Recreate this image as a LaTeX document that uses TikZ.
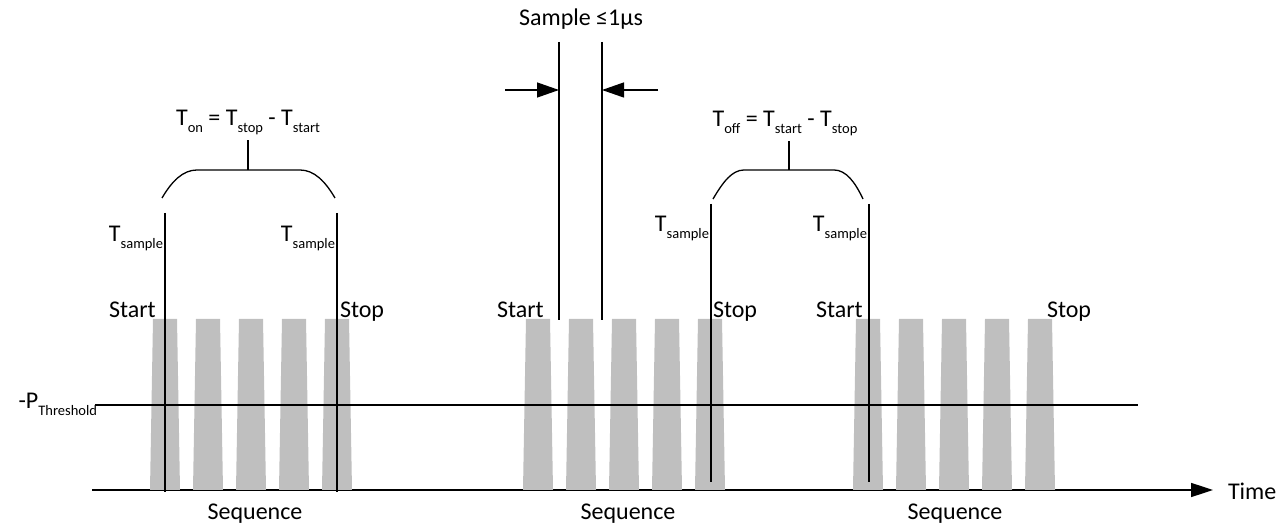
\documentclass[tikz,border=0pt]{standalone}
\usepackage{fontspec}
\setmainfont{Carlito}
\usetikzlibrary{arrows.meta}
\newcommand{\mysub}[1]{\raisebox{-0.28em}{\fontsize{14.5}{15}\selectfont #1}}
\begin{document}
\begin{tikzpicture}[x=1pt,y=-1pt,
  lbl/.style={inner sep=0pt,outer sep=0pt,font=\fontsize{24}{28}\selectfont},
  pulse/.style={fill=black!25},
  vline/.style={line width=1.6pt},
  hline/.style={line width=1.4pt},
  brace/.style={line width=1.3pt},
  head/.style={-{Triangle[length=22pt,width=15pt]},line width=1.3pt}]
\useasboundingbox (0,0) rectangle (1286,526);
% axis
\coordinate (ax0) at (92,490);
\coordinate (ax1) at (1213,490);
\draw[line width=1.6pt,-{Triangle[length=22pt,width=14pt]}] (ax0) -- (ax1);
\node[lbl,anchor=base west] (time) at (1228,500) {Time};
% pulses
\foreach \c in {165,208,251,294,337,538,581,624,667,710,868,911,954,997,1040}{
  \fill[pulse] (\c-15,490) -- (\c-12,319) -- (\c+12,319) -- (\c+15,490) -- cycle;
}
% threshold
\coordinate (th0) at (95,405);
\coordinate (th1) at (1138,405);
\draw[hline] (th0) -- (th1);
\node[lbl,anchor=base east] (pth) at (97,409) {-P\mysub{Threshold}};
% vertical sample lines
\coordinate (a1t) at (165,213); \coordinate (a1b) at (165,492);
\coordinate (a2t) at (337,213); \coordinate (a2b) at (337,492);
\coordinate (b1t) at (559,42);  \coordinate (b1b) at (559,320);
\coordinate (b2t) at (602,42);  \coordinate (b2b) at (602,320);
\coordinate (b3t) at (711,204); \coordinate (b3b) at (711,482);
\coordinate (c1t) at (869,204); \coordinate (c1b) at (869,482);
\foreach \p in {a1,a2,b1,b2,b3,c1}{\draw[vline] (\p t) -- (\p b);}
% sample width arrows
\coordinate (la) at (505,90); \coordinate (lb) at (559,90);
\coordinate (ra) at (658,90); \coordinate (rb) at (602,90);
\draw[head] (la) -- (lb);
\draw[head] (ra) -- (rb);
\node[lbl,anchor=base] (samp) at (581,26) {Sample ≤1µs};
% brace 1
\coordinate (e1l) at (162,198); \coordinate (e1r) at (335,198);
\coordinate (s1b) at (248,170); \coordinate (s1t) at (248,140);
\draw[brace] (e1l) .. controls (172,181) and (183,170) .. (197,170) -- (300,170)
  .. controls (314,170) and (325,181) .. (e1r);
\draw[brace] (s1b) -- (s1t);
\node[lbl,anchor=base] (ton) at (248,126) {T\mysub{on} = T\mysub{stop} - T\mysub{start}};
% brace 2
\coordinate (e2l) at (713,199); \coordinate (e2r) at (863,199);
\coordinate (s2b) at (789,170); \coordinate (s2t) at (789,141);
\draw[brace] (e2l) .. controls (723,182) and (732,170) .. (744,170) -- (834,170)
  .. controls (846,170) and (855,182) .. (e2r);
\draw[brace] (s2b) -- (s2t);
\node[lbl,anchor=base] (toff) at (785,127) {T\mysub{off} = T\mysub{start} - T\mysub{stop}};
% T sample labels
\node[lbl,anchor=base east] (ts1) at (163,242) {T\mysub{sample}};
\node[lbl,anchor=base east] (ts2) at (335,242) {T\mysub{sample}};
\node[lbl,anchor=base east] (ts3) at (709,232) {T\mysub{sample}};
\node[lbl,anchor=base east] (ts4) at (867,232) {T\mysub{sample}};
% start / stop
\node[lbl,anchor=base west] (st1) at (109,318) {Start};
\node[lbl,anchor=base west] (sp1) at (340,318) {Stop};
\node[lbl,anchor=base west] (st2) at (497,318) {Start};
\node[lbl,anchor=base west] (sp2) at (713,318) {Stop};
\node[lbl,anchor=base west] (st3) at (816,318) {Start};
\node[lbl,anchor=base west] (sp3) at (1047,318) {Stop};
% sequence
\node[lbl,anchor=base] (sq1) at (255,520) {Sequence};
\node[lbl,anchor=base] (sq2) at (628,520) {Sequence};
\node[lbl,anchor=base] (sq3) at (955,520) {Sequence};
\end{tikzpicture}
\end{document}
